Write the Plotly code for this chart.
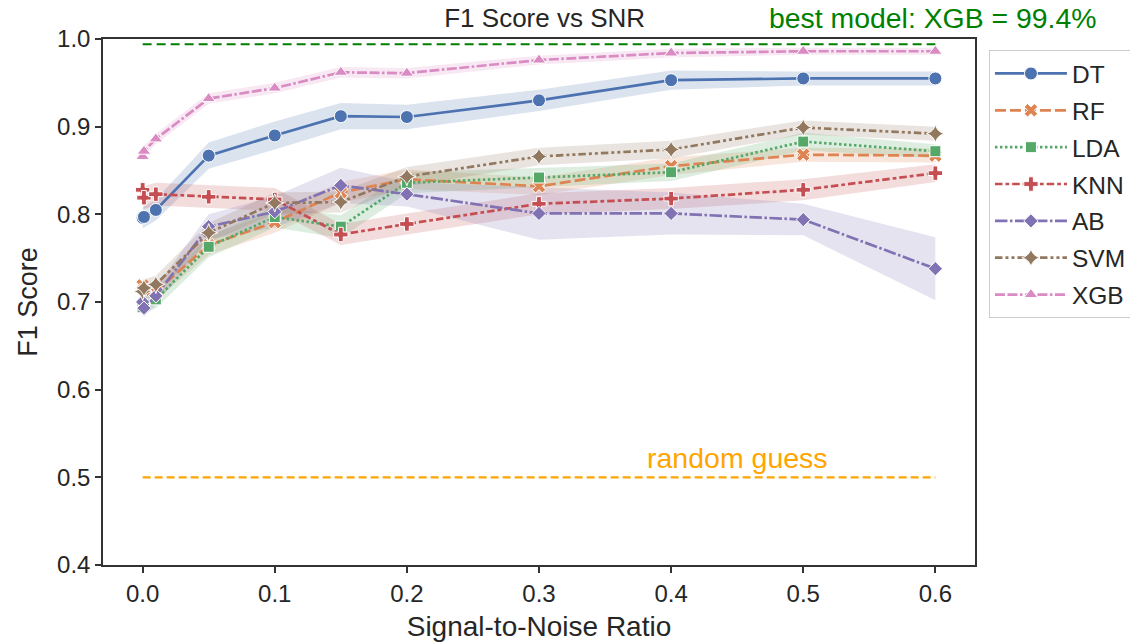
import plotly.graph_objects as go

snr = [0, 0.001, 0.01, 0.05, 0.1, 0.15, 0.2, 0.3, 0.4, 0.5, 0.6]
models = ["DT", "RF", "LDA", "KNN", "AB", "SVM", "XGB"]

dt = [0.796, 0.797, 0.805, 0.867, 0.890, 0.912, 0.911, 0.930, 0.953, 0.955, 0.955]
rf = [0.719, 0.714, 0.712, 0.765, 0.791, 0.825, 0.840, 0.832, 0.855, 0.868, 0.867]
lda = [0.694, 0.697, 0.703, 0.763, 0.797, 0.786, 0.836, 0.842, 0.848, 0.883, 0.872]
knn = [0.828, 0.819, 0.823, 0.820, 0.817, 0.777, 0.789, 0.812, 0.818, 0.828, 0.847]
ab = [0.700, 0.693, 0.707, 0.786, 0.803, 0.833, 0.823, 0.801, 0.801, 0.794, 0.738]
svm = [0.712, 0.716, 0.720, 0.779, 0.813, 0.814, 0.843, 0.866, 0.874, 0.899, 0.892]
xgb = [0.866, 0.872, 0.886, 0.932, 0.944, 0.962, 0.961, 0.976, 0.984, 0.986, 0.986]

# confidence-band half widths
dt_ci = [0.012, 0.012, 0.012, 0.015, 0.016, 0.015, 0.014, 0.012, 0.011, 0.008, 0.008]
rf_ci = [0.010, 0.010, 0.010, 0.011, 0.012, 0.012, 0.011, 0.010, 0.010, 0.008, 0.008]
lda_ci = [0.010, 0.010, 0.010, 0.012, 0.012, 0.013, 0.012, 0.011, 0.010, 0.010, 0.008]
knn_ci = [0.013, 0.013, 0.013, 0.013, 0.013, 0.012, 0.012, 0.012, 0.012, 0.012, 0.010]
ab_ci = [0.010, 0.010, 0.010, 0.014, 0.018, 0.020, 0.014, 0.030, 0.024, 0.018, 0.036]
svm_ci = [0.010, 0.010, 0.010, 0.011, 0.012, 0.012, 0.011, 0.010, 0.010, 0.008, 0.008]
xgb_ci = [0.006, 0.006, 0.006, 0.006, 0.006, 0.006, 0.006, 0.005, 0.005, 0.004, 0.004]

best_score = 0.994
random_guess = 0.5

series = [dt, rf, lda, knn, ab, svm, xgb]
cis = [dt_ci, rf_ci, lda_ci, knn_ci, ab_ci, svm_ci, xgb_ci]
colors = ["#4C72B0", "#DD8452", "#55A868", "#C44E52", "#8172B3", "#937860", "#DA8BC3"]
dashes = ["solid", "11px,4px", "2.5px,2.5px", "7.5px,3px,3.75px,3px",
          "12.5px,2.5px,2.5px,2.5px", "7.5px,3px,3px,3px,3px,3px",
          "10px,2.5px,10px,2.5px,2.5px,2.5px"]
symbols = ["circle", "x", "square", "cross", "diamond", "star-diamond", "triangle-up"]
sizes = [13, 12, 11, 12, 11, 13, 12]


def rgba(h, a):
    h = h.lstrip("#")
    r, g, b = int(h[0:2], 16), int(h[2:4], 16), int(h[4:6], 16)
    return f"rgba({r},{g},{b},{a})"


FONT = "Arial, Liberation Sans, sans-serif"
fig = go.Figure()

for name, ys, ci, c in zip(models, series, cis, colors):
    lo = [y - e for y, e in zip(ys, ci)]
    hi = [y + e for y, e in zip(ys, ci)]
    fig.add_trace(go.Scatter(x=snr, y=lo, mode="lines", line=dict(width=0, color=c),
                             showlegend=False, hoverinfo="skip"))
    fig.add_trace(go.Scatter(x=snr, y=hi, mode="lines", line=dict(width=0, color=c),
                             fill="tonexty", fillcolor=rgba(c, 0.2),
                             showlegend=False, hoverinfo="skip"))

fig.add_trace(go.Scatter(x=[snr[0], snr[-1]], y=[best_score, best_score], mode="lines",
                         line=dict(color="green", width=2.2, dash="9px,5px"),
                         showlegend=False, hoverinfo="skip"))
fig.add_trace(go.Scatter(x=[snr[0], snr[-1]], y=[random_guess, random_guess], mode="lines",
                         line=dict(color="orange", width=2.2, dash="8px,4px"),
                         showlegend=False, hoverinfo="skip"))

for name, ys, c, d, s, sz in zip(models, series, colors, dashes, symbols, sizes):
    fig.add_trace(go.Scatter(
        x=snr, y=ys, name=name, mode="lines+markers", legendgroup=name,
        line=dict(color=c, width=2.7, dash=d),
        marker=dict(symbol=s, size=sz, color=c, line=dict(color="white", width=1)),
    ))

fig.add_annotation(x=0.45, y=random_guess, text="random guess", showarrow=False,
                   xref="x", yref="y", yanchor="bottom", yshift=1,
                   font=dict(color="orange", size=28.5, family=FONT))
fig.add_annotation(x=1.141, y=1.04, xref="paper", yref="paper", text="best model: XGB = 99.4%",
                   showarrow=False, xanchor="right", yanchor="middle",
                   font=dict(color="green", size=28.4, family=FONT))

fig.update_layout(
    width=1130, height=642,
    margin=dict(l=103, r=155, t=39, b=77, autoexpand=False),
    paper_bgcolor="white", plot_bgcolor="white",
    font=dict(family=FONT, color="#262626", size=24),
    title=dict(text="F1 Score vs SNR", x=0.482, xanchor="center", y=0.972, yanchor="middle",
               font=dict(size=26, family=FONT, color="#262626")),
    legend=dict(x=1.016, y=0.979, xanchor="left", yanchor="top",
                bgcolor="white", bordercolor="#cccccc", borderwidth=1,
                font=dict(size=24.5, family=FONT, color="#262626"),
                itemwidth=72, tracegroupgap=2),
)
fig.update_xaxes(range=[-0.03, 0.63], tickvals=[0, 0.1, 0.2, 0.3, 0.4, 0.5, 0.6],
                 tickformat=".1f", showgrid=False, zeroline=False, automargin=False,
                 showline=True, linecolor="#333333", linewidth=1.5, mirror=True,
                 ticks="outside", ticklen=6, tickwidth=1.5, tickcolor="#333333",
                 title=dict(text="Signal-to-Noise Ratio", font=dict(size=28), standoff=11),
                 tickfont=dict(size=24))
fig.update_yaxes(range=[0.4, 1.0], dtick=0.1, tick0=0.4, tickformat=".1f",
                 showgrid=False, zeroline=False, automargin=False,
                 showline=True, linecolor="#333333", linewidth=1.5, mirror=True,
                 ticks="outside", ticklen=6, tickwidth=1.5, tickcolor="#333333",
                 title=dict(text="F1 Score", font=dict(size=27), standoff=12),
                 tickfont=dict(size=24))

fig.write_html("out.html")
